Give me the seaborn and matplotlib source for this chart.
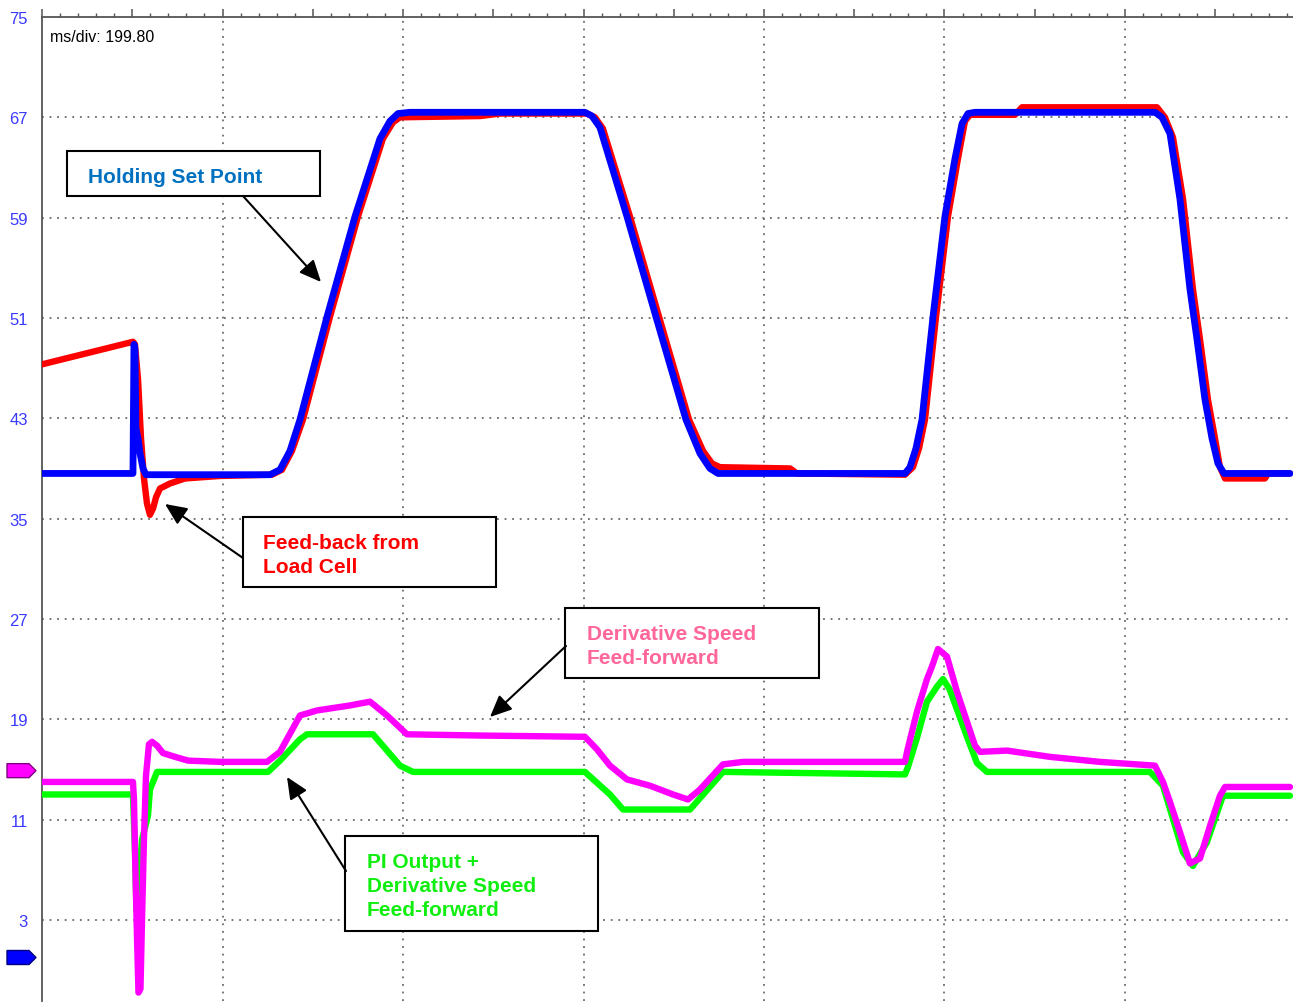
import numpy as np
import pandas as pd
import matplotlib
matplotlib.use("Agg")
import matplotlib.pyplot as plt
import matplotlib.transforms as mtransforms
from matplotlib.patches import Rectangle, Polygon
from matplotlib.ticker import FixedLocator, FuncFormatter
import seaborn as sns

# ---------------- data (time in ms, values in scope units) ----------------
setpoint_t = [0, 100.7, 101.8, 102.9, 104.0, 106.3, 108.5, 111.8, 115.1,
              252.4, 263.4, 274.5, 285.6, 315.5, 346.5, 374.1, 385.2, 394.1, 407.3,
              601.0, 608.8, 617.6, 647.5, 679.6, 712.8, 728.3, 739.4, 748.3,
              955.3, 960.8, 967.4, 974.1, 986.3, 999.5, 1010.6, 1018.4, 1025.0, 1032.7,
              1232.0, 1239.7, 1248.6, 1259.6, 1270.7, 1278.5, 1287.3, 1295.1, 1301.7, 1308.4, 1381.4]
setpoint_v = [38.6, 38.6, 48.9, 48.5, 42.2, 41.4, 40.2, 39.0, 38.5,
              38.5, 38.9, 40.4, 42.9, 51.1, 59.1, 65.3, 66.7, 67.3, 67.4,
              67.4, 67.1, 66.2, 59.1, 51.1, 42.9, 40.2, 39.0, 38.6,
              38.6, 39.1, 40.6, 42.9, 51.1, 59.1, 63.7, 66.5, 67.3, 67.4,
              67.4, 67.0, 65.7, 60.5, 53.3, 49.3, 44.5, 41.4, 39.4, 38.6, 38.6]

feedback_t = [0, 100.7, 102.9, 106.3, 109.6, 112.9, 116.2, 119.5, 122.9, 126.2,
              130.6, 141.7, 158.3, 197.0, 254.6, 265.7, 276.7, 288.9, 318.8, 349.8,
              377.4, 388.5, 396.3, 484.8, 507.0, 603.3, 612.1, 620.9, 650.8, 683.0,
              716.2, 731.7, 741.6, 750.5, 828.0, 835.7, 955.3, 964.1, 970.8, 977.4,
              989.6, 1002.9, 1013.9, 1021.7, 1027.2, 1077.0, 1084.8, 1234.2, 1243.0, 1251.9,
              1263.0, 1274.0, 1281.8, 1290.6, 1298.4, 1303.9, 1309.5, 1353.7, 1357.1, 1381.4]
feedback_v = [47.3, 49.1, 48.9, 46.1, 41.4, 38.2, 36.2, 35.3, 35.8, 36.7,
              37.4, 37.8, 38.2, 38.4, 38.5, 38.9, 40.4, 42.9, 51.1, 59.1,
              65.3, 66.6, 67.0, 67.1, 67.3, 67.3, 67.0, 66.1, 59.1, 51.1,
              42.9, 40.4, 39.4, 39.1, 39.0, 38.6, 38.5, 39.1, 40.6, 42.9,
              51.1, 59.1, 63.7, 66.7, 67.2, 67.2, 67.8, 67.8, 67.0, 65.4,
              60.5, 53.3, 49.3, 44.5, 41.4, 39.1, 38.2, 38.2, 38.6, 38.6]

deriv_t = [0, 100.7, 101.8, 103.4, 105.2, 106.8, 109.0, 110.7, 112.9, 115.1,
           118.4, 121.8, 127.3, 134.0, 147.3, 161.7, 197.0, 249.1, 263.4, 285.6,
           304.4, 340.9, 363.1, 381.9, 404.0, 484.8, 601.0, 614.3, 628.7, 647.5,
           673.0, 698.5, 715.1, 728.3, 753.8, 775.9, 955.3, 957.5, 968.5, 979.6,
           985.1, 991.8, 1001.7, 1012.8, 1023.9, 1032.7, 1038.3, 1068.2, 1115.8, 1171.1,
           1232.0, 1240.8, 1248.6, 1259.6, 1270.7, 1281.8, 1292.9, 1303.9, 1309.5, 1381.4]
deriv_v = [14.0, 14.0, 12.6, 7.0, 1.5, -2.8, -2.5, 3.0, 9.5, 14.5,
           17.0, 17.2, 16.9, 16.3, 16.0, 15.7, 15.6, 15.6, 16.4, 19.3,
           19.7, 20.1, 20.4, 19.3, 17.8, 17.7, 17.6, 16.6, 15.3, 14.2,
           13.7, 13.0, 12.6, 13.4, 15.4, 15.6, 15.6, 16.4, 19.6, 22.2,
           23.2, 24.6, 24.0, 21.2, 18.8, 16.9, 16.4, 16.5, 16.0, 15.6,
           15.3, 14.0, 12.4, 10.0, 7.5, 7.9, 10.5, 12.9, 13.6, 13.6]

pi_t = [0, 100.7, 102.9, 104.6, 108.5, 110.7, 117.3, 119.5, 127.3,
        250.2, 263.4, 285.6, 293.3, 366.4, 396.3, 410.7,
        601.0, 628.7, 643.1, 717.3, 753.8,
        955.3, 958.6, 968.5, 979.6, 990.7, 997.3, 1004.6, 1012.8, 1023.9, 1035.0, 1046.0,
        1226.4, 1240.8, 1263.0, 1274.0, 1289.5, 1307.2, 1381.4]
pi_v = [13.0, 13.0, 8.4, 3.7, 6.9, 9.4, 11.3, 13.4, 14.8,
        14.8, 15.7, 17.4, 17.8, 17.8, 15.3, 14.8,
        14.8, 13.0, 11.8, 11.8, 14.8,
        14.6, 15.2, 17.5, 20.4, 21.6, 22.2, 21.4, 19.8, 17.6, 15.5, 14.8,
        14.8, 13.7, 8.4, 7.3, 9.2, 12.9, 12.9]

marker_levels = [14.9, 0.0]
marker_colors = ["#ff00ff", "#0000ff"]
marker_edges = ["#800080", "#000080"]

ms_per_div = 199.80
y_labels = [75, 67, 59, 51, 43, 35, 27, 19, 11, 3]

# ---------------- figure ----------------
sns.set_style("white")
plt.rcParams["font.family"] = ["Liberation Sans", "DejaVu Sans"]

W, H = 1293, 1004
fig = plt.figure(figsize=(W / 100, H / 100), dpi=100)
fig.patch.set_facecolor("white")
ax = fig.add_axes([42 / W, 2 / H, (W - 42) / W, 984 / H])

px_per_div = 180.5
px_per_unit = 12.54

def X(px):  # layout helper: pixel column -> ms
    return (px - 42) * ms_per_div / px_per_div

def Y(py):  # layout helper: pixel row -> value
    return 75 - (py - 18) / px_per_unit

ax.set_xlim(0, X(W))
ax.set_ylim(Y(1002), 75)

# grid (dotted)
grid_kw = dict(color="#6a6a6a", lw=1.3, ls=(0, (1, 3.2)), zorder=1)
for v in y_labels[1:]:
    ax.axhline(v, **grid_kw)
for k in range(1, 8):
    ax.axvline(k * ms_per_div, **grid_kw)

# traces
sns.lineplot(x=feedback_t, y=feedback_v, ax=ax, color="#ff0000", linewidth=4.6,
             estimator=None, sort=False, legend=False, zorder=3)
sns.lineplot(x=setpoint_t, y=setpoint_v, ax=ax, color="#0000ff", linewidth=4.9,
             estimator=None, sort=False, legend=False, zorder=4)
sns.lineplot(x=pi_t, y=pi_v, ax=ax, color="#00ff00", linewidth=4.6,
             estimator=None, sort=False, legend=False, zorder=3)
sns.lineplot(x=deriv_t, y=deriv_v, ax=ax, color="#ff00ff", linewidth=4.6,
             estimator=None, sort=False, legend=False, zorder=4)
for ln in ax.lines:
    ln.set_solid_joinstyle("round")
ax.set_xlabel("")
ax.set_ylabel("")

# spines & ticks
for s in ["right", "bottom"]:
    ax.spines[s].set_visible(False)
for s in ["left", "top"]:
    ax.spines[s].set_color("#555555")
    ax.spines[s].set_linewidth(1.3)

ax.xaxis.tick_top()
ax.xaxis.set_major_locator(FixedLocator(np.arange(0, X(W), ms_per_div / 2)))
ax.xaxis.set_minor_locator(FixedLocator(np.arange(0, X(W), ms_per_div / 10)))
ax.tick_params(axis="x", which="major", direction="out", length=6, width=1.1,
               color="#555555", labeltop=False, labelbottom=False, top=True, bottom=False)
ax.tick_params(axis="x", which="minor", direction="out", length=2.6, width=1.0,
               color="#555555", top=True, bottom=False)

ax.yaxis.set_major_locator(FixedLocator(np.arange(75, -4, -4)))
ax.yaxis.set_minor_locator(FixedLocator(np.arange(75, -4, -0.8)))
ax.yaxis.set_major_formatter(FuncFormatter(
    lambda v, p: f"{int(round(v))}" if int(round(v)) in y_labels else ""))
ax.tick_params(axis="y", which="major", direction="out", length=5.8, width=1.1,
               color="#555555", labelsize=12, labelcolor="#3a3aff", pad=4.3)
ax.tick_params(axis="y", which="minor", direction="out", length=3.2, width=1.0,
               color="#555555")

# channel position markers on the left
trans = mtransforms.blended_transform_factory(ax.transAxes, ax.transData)
axw = W - 42
half = 7 / px_per_unit
for lvl, fc, ec in zip(marker_levels, marker_colors, marker_edges):
    xs = [(p - 42) / axw for p in (7, 29, 36, 29, 7)]
    ys = [lvl - half, lvl - half, lvl, lvl + half, lvl + half]
    ax.add_patch(Polygon(list(zip(xs, ys)), closed=True, transform=trans,
                         facecolor=fc, edgecolor=ec, lw=1.0, clip_on=False, zorder=7))

# scale text
ax.text(X(50), Y(42), "ms/div: 199.80", fontsize=11.5, color="black",
        ha="left", va="baseline", zorder=6)

# annotation boxes
boxes = [
    ((67, 152, 320, 197), 88, [(183, "Holding Set Point")], "#0070c0"),
    ((243, 518, 496, 588), 263, [(549, "Feed-back from"), (573, "Load Cell")], "#ff0000"),
    ((565, 609, 819, 679), 587, [(640, "Derivative Speed"), (664, "Feed-forward")], "#ff6699"),
    ((345, 837, 598, 932), 367, [(868, "PI Output +"), (892, "Derivative Speed"),
                                 (916, "Feed-forward")], "#10ee10"),
]
for (x0, y0, x1, y1), tx, lines, col in boxes:
    ax.add_patch(Rectangle((X(x0), Y(y1)), X(x1) - X(x0), Y(y0) - Y(y1),
                           facecolor="white", edgecolor="black", lw=1.5, zorder=5))
    for by, s in lines:
        ax.text(X(tx), Y(by), s, fontsize=15, fontweight="bold", color=col,
                ha="left", va="baseline", zorder=6)

arrows = [((243, 197), (321, 283)),
          ((243, 559), (165, 505)),
          ((566, 647), (490, 718)),
          ((346, 872), (287, 778))]
for (sx, sy), (ex, ey) in arrows:
    ax.annotate("", xy=(X(ex), Y(ey)), xytext=(X(sx), Y(sy)),
                arrowprops=dict(arrowstyle="-|>,head_length=0.6,head_width=0.27",
                                mutation_scale=22, lw=1.5, color="black",
                                shrinkA=0, shrinkB=0),
                zorder=6)

fig.savefig("out.png", dpi=100, facecolor="white")
